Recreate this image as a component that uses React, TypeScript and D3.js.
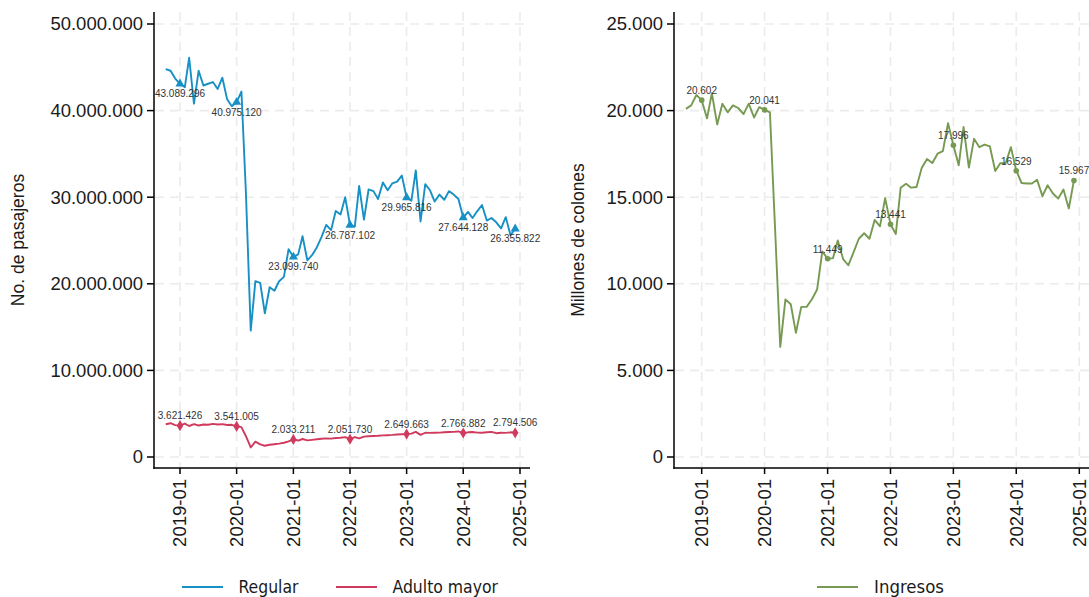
import React from "react";
import * as d3 from "d3";

// ---------- data ----------
const START_MONTH = "2018-10";
const END_MONTH = "2024-12";
const YEAR_TICKS = ["2019-01", "2020-01", "2021-01", "2022-01", "2023-01", "2024-01", "2025-01"];
const ANNOTATED_MONTHS = ["2019-01", "2020-01", "2021-01", "2022-01", "2023-01", "2024-01", "2024-12"];
const PASSENGER_TICKS = [0, 10000000, 20000000, 30000000, 40000000, 50000000];
const INCOME_TICKS = [0, 5000, 10000, 15000, 20000, 25000];

// Pasajeros "Regular" (millones)
const regularMillions = [
  44.8, 44.6, 43.7, 43.089296, 42.7, 46.1, 40.8, 44.6, 42.9, 43.1, 43.3, 42.5, 43.8, 41.3, 40.5,
  40.97512, 42.2, 30.5, 14.6, 20.3, 20.1, 16.6, 19.6, 19.2, 20.3, 20.8, 24.0,
  23.09974, 23.4, 25.5, 22.7, 23.3, 24.2, 25.4, 26.8, 26.2, 28.4, 28.0, 30.0,
  26.787102, 26.6, 31.3, 27.4, 30.9, 30.7, 29.8, 31.7, 30.8, 31.6, 31.8, 32.5,
  29.965816, 29.6, 33.1, 27.2, 31.5, 30.8, 29.5, 30.3, 29.7, 30.7, 30.3, 29.8,
  27.644128, 28.3, 27.6, 28.4, 29.1, 27.3, 27.6, 27.1, 26.4, 27.7, 25.6, 26.355822,
];

// Pasajeros "Adulto mayor" (millones)
const adultoMayorMillions = [
  3.78, 3.9, 3.68, 3.621426, 3.86, 3.58, 3.8, 3.64, 3.75, 3.73, 3.82, 3.76, 3.8, 3.7, 3.72,
  3.541005, 3.45, 2.4, 1.1, 1.77, 1.45, 1.3, 1.42, 1.48, 1.55, 1.65, 1.8,
  2.033211, 1.9, 2.08, 1.92, 1.98, 2.05, 2.1, 2.15, 2.12, 2.2, 2.22, 2.3,
  2.05173, 2.3, 2.15, 2.35, 2.4, 2.42, 2.45, 2.5, 2.52, 2.55, 2.6, 2.62,
  2.649663, 2.7, 2.9, 2.55, 2.8, 2.78, 2.8, 2.82, 2.85, 2.88, 2.9, 2.95,
  2.766882, 2.85, 2.88, 2.82, 2.8, 2.85, 2.9, 2.75, 2.8, 2.78, 2.85, 2.794506,
];

// Ingresos (millones de colones)
const ingresos = [
  20100, 20300, 20900, 20602, 19550, 21000, 19200, 20400, 19900, 20300, 20150, 19800, 20400, 19600, 20200,
  20041, 19900, 13400, 6350, 9100, 8820, 7170, 8670, 8670, 9090, 9670, 11870,
  11449, 11480, 12500, 11430, 11070, 11830, 12600, 12920, 12600, 13690, 13320, 14950,
  13441, 12880, 15550, 15780, 15550, 15590, 16680, 17200, 16970, 17510, 17660, 19270,
  17996, 16840, 19050, 16710, 18370, 17890, 18040, 17930, 16510, 16970, 16970, 17890,
  16529, 15820, 15790, 15790, 16010, 15060, 15690, 15210, 14920, 15440, 14350, 15967,
];

// ---------- helpers ----------
const parseMonth = d3.timeParse("%Y-%m");
const months: Date[] = d3.timeMonth.range(parseMonth(START_MONTH)!, d3.timeMonth.offset(parseMonth(END_MONTH)!, 1));
const fmt = d3.formatLocale({ decimal: ",", thousands: ".", grouping: [3], currency: ["", ""] }).format(",d");

const BLUE = "#1790c5";
const RED = "#cf3a5e";
const GREEN = "#779a52";
const GRID = "#ebebeb";
const FONT = "'Liberation Sans', Arial, Helvetica, sans-serif";
const LEGEND_FONT = "'Liberation Sans Narrow', 'DejaVu Sans Condensed', 'Liberation Sans', Arial, sans-serif";

type Series = {
  values: number[];
  color: string;
  symbol: d3.SymbolType | null;
  labelDy: number;
};

type LegendItem = { label: string; color: string; x1: number; x2: number; tx: number; tw: number };

function Panel(props: {
  xScale: d3.ScaleTime<number, number>;
  yScale: d3.ScaleLinear<number, number>;
  left: number;
  right: number;
  top: number;
  bottom: number;
  yTicks: number[];
  yLabel: string;
  yLabelX: number;
  series: Series[];
  legend: LegendItem[];
}) {
  const { xScale, yScale, left, right, top, bottom, yTicks, yLabel, yLabelX, series, legend } = props;
  const yearDates = YEAR_TICKS.map((s) => parseMonth(s)!);
  const annotated = ANNOTATED_MONTHS.map((s) => months.findIndex((m) => +m === +parseMonth(s)!));
  return (
    <g>
      {/* grid */}
      {yTicks.map((t) => (
        <line key={"gy" + t} x1={left + 1} x2={right} y1={yScale(t)} y2={yScale(t)} stroke={GRID} strokeWidth={1.6} strokeDasharray="9,6" />
      ))}
      {yearDates.map((d, i) => (
        <line key={"gx" + i} x1={xScale(d)} x2={xScale(d)} y1={top} y2={bottom - 1} stroke={GRID} strokeWidth={1.6} strokeDasharray="9,6" />
      ))}
      {/* series */}
      {series.map((s, si) => {
        const line = d3
          .line<number>()
          .x((_, i) => xScale(months[i]))
          .y((v) => yScale(v));
        return (
          <g key={"s" + si}>
            <path d={line(s.values) || ""} fill="none" stroke={s.color} strokeWidth={1.9} strokeLinejoin="round" />
            {annotated.map((idx) => {
              const cx = xScale(months[idx]);
              const cy = yScale(s.values[idx]);
              return (
                <g key={"a" + idx}>
                  {s.symbol ? (
                    <path d={d3.symbol().type(s.symbol).size(36)() || ""} transform={`translate(${cx},${cy})`} fill={s.color} />
                  ) : (
                    <circle cx={cx} cy={cy} r={2.8} fill={s.color} />
                  )}
                  <text x={cx} y={cy + s.labelDy} textAnchor="middle" fontSize={10} fill="#333" fontFamily={FONT}>
                    {fmt(s.values[idx])}
                  </text>
                </g>
              );
            })}
          </g>
        );
      })}
      {/* axes */}
      <line x1={left} x2={left} y1={top} y2={bottom + 0.75} stroke="#000" strokeWidth={1.5} />
      <line x1={left - 0.75} x2={right} y1={bottom} y2={bottom} stroke="#000" strokeWidth={1.5} />
      {yTicks.map((t) => (
        <g key={"yt" + t}>
          <line x1={left - 7} x2={left} y1={yScale(t)} y2={yScale(t)} stroke="#000" strokeWidth={1.5} />
          <text x={left - 11} y={yScale(t)} dy="0.35em" textAnchor="end" fontSize={18.5} fill="#1a1a1a" fontFamily={FONT}>
            {fmt(t)}
          </text>
        </g>
      ))}
      {yearDates.map((d, i) => (
        <g key={"xt" + i}>
          <line x1={xScale(d)} x2={xScale(d)} y1={bottom} y2={bottom + 6} stroke="#000" strokeWidth={1.5} />
          <text
            transform={`translate(${xScale(d)},${bottom + 11}) rotate(-90)`}
            dy="0.35em"
            textAnchor="end"
            fontSize={18.5}
            fill="#1a1a1a"
            fontFamily={FONT}
          >
            {YEAR_TICKS[i]}
          </text>
        </g>
      ))}
      <text
        transform={`translate(${yLabelX},${(top + bottom) / 2}) rotate(-90)`}
        dy="0.35em"
        textAnchor="middle"
        fontSize={17.5}
        fill="#1a1a1a"
        fontFamily={FONT}
      >
        {yLabel}
      </text>
      {/* legend */}
      {legend.map((l) => (
        <g key={l.label}>
          <line x1={l.x1} x2={l.x2} y1={587} y2={587} stroke={l.color} strokeWidth={2} />
          <text x={l.tx} y={592.5} fontSize={18} fill="#1a1a1a" fontFamily={LEGEND_FONT} textLength={l.tw} lengthAdjust="spacingAndGlyphs">
            {l.label}
          </text>
        </g>
      ))}
    </g>
  );
}

export default function App() {
  const W = 1089;
  const H = 597;
  const top = 12;
  const bottom = 468;
  const t0 = parseMonth(YEAR_TICKS[0])!;
  const t1 = parseMonth(YEAR_TICKS[YEAR_TICKS.length - 1])!;

  const xL = d3.scaleTime().domain([t0, t1]).range([180, 520]);
  const yL = d3.scaleLinear().domain([0, 50000000]).range([457, 24]);
  const xR = d3.scaleTime().domain([t0, t1]).range([701.7, 1079.3]);
  const yR = d3.scaleLinear().domain([0, 25000]).range([457, 24]);

  const regular = regularMillions.map((v) => v * 1e6);
  const adulto = adultoMayorMillions.map((v) => v * 1e6);

  return (
    <div style={{ position: "absolute", left: 0, top: 0, width: W, height: H, overflow: "hidden", background: "#fff" }}>
      <svg width={W} height={H} viewBox={`0 0 ${W} ${H}`} style={{ display: "block" }}>
        <rect width={W} height={H} fill="#fff" />
        <Panel
          xScale={xL}
          yScale={yL}
          left={154}
          right={530}
          top={top}
          bottom={bottom}
          yTicks={PASSENGER_TICKS}
          yLabel="No. de pasajeros"
          yLabelX={18}
          series={[
            { values: regular, color: BLUE, symbol: d3.symbolTriangle, labelDy: 13.5 },
            { values: adulto, color: RED, symbol: d3.symbolDiamond, labelDy: -6.5 },
          ]}
          legend={[
            { label: "Regular", color: BLUE, x1: 182, x2: 223, tx: 238.5, tw: 60 },
            { label: "Adulto mayor", color: RED, x1: 336, x2: 377, tx: 392.5, tw: 105.5 },
          ]}
        />
        <Panel
          xScale={xR}
          yScale={yR}
          left={674}
          right={W + 5}
          top={top}
          bottom={bottom}
          yTicks={INCOME_TICKS}
          yLabel="Millones de colones"
          yLabelX={578}
          series={[{ values: ingresos, color: GREEN, symbol: null, labelDy: -6 }]}
          legend={[{ label: "Ingresos", color: GREEN, x1: 817, x2: 858, tx: 874, tw: 70 }]}
        />
      </svg>
    </div>
  );
}
